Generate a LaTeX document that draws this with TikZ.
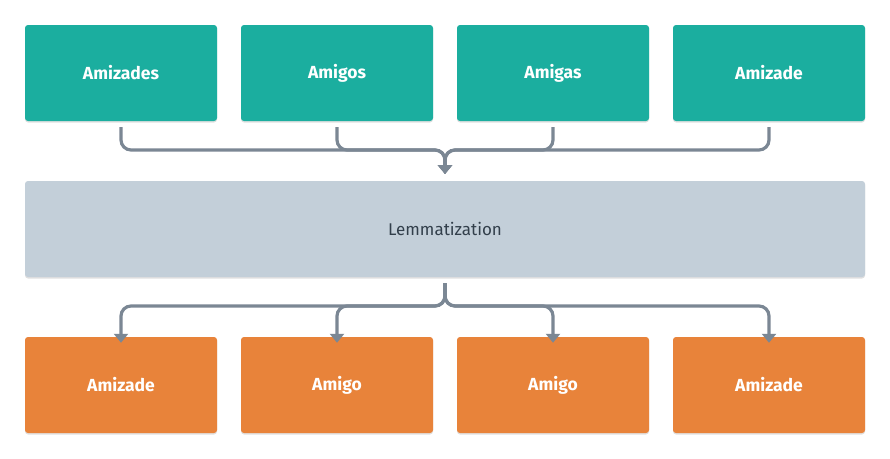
\documentclass[tikz,border=0pt]{standalone}
\usepackage{fontspec}
\setmainfont{Fira Sans}
\usetikzlibrary{arrows.meta,shadows,calc}
\definecolor{teal}{HTML}{1BAE9F}
\definecolor{orng}{HTML}{E8833A}
\definecolor{lgrey}{HTML}{C3CFD9}
\definecolor{dtext}{HTML}{323F4B}
\definecolor{conncol}{HTML}{7B8794}
\tikzset{
  box/.style={rounded corners=3pt, minimum width=192pt, minimum height=96pt, inner sep=0pt,
    font=\fontsize{17.5}{20}\selectfont\bfseries, text=white,
    drop shadow={shadow xshift=0pt, shadow yshift=-1.5pt, opacity=0.12, fill=black}},
  topbox/.style={box, fill=teal},
  botbox/.style={box, fill=orng},
  midbox/.style={rounded corners=3pt, minimum width=840pt, minimum height=96pt, inner sep=0pt,
    fill=lgrey, text=dtext, font=\fontsize{17}{20}\selectfont,
    drop shadow={shadow xshift=0pt, shadow yshift=-1.5pt, opacity=0.12, fill=black}},
  conn/.style={draw=conncol, line width=3.2pt, rounded corners=10pt},
  tipped/.style={conn, -{Triangle[width=14pt,length=9pt]}}
}
\begin{document}
\begin{tikzpicture}[x=1pt,y=-1pt]
\useasboundingbox (0,0) rectangle (890,458);
\fill[white] (0,0) rectangle (890,458);
\node[topbox] (t1) at (121,73) {Amizades};
\node[topbox] (t2) at (337,73) {Amigos};
\node[topbox] (t3) at (553,73) {Amigas};
\node[topbox] (t4) at (769,73) {Amizade};
\node[midbox] (m) at (445,229) {Lemmatization};
\node[botbox] (b1) at (121,385) {Amizade};
\node[botbox] (b2) at (337,385) {Amigo};
\node[botbox] (b3) at (553,385) {Amigo};
\node[botbox] (b4) at (769,385) {Amizade};
\coordinate (jt) at (445,150);
\coordinate (tt) at (445,174);
\coordinate (ms) at (445,283);
\coordinate (jb) at (445,306);
\foreach \n in {t1,t2,t3,t4}{
  \draw[tipped] ([yshift=-6pt]\n.south) |- (jt) -- (tt);
}
\foreach \n in {b1,b2,b3,b4}{
  \draw[tipped] (ms) -- (jb) -| ([yshift=-6pt]\n.north);
}
\end{tikzpicture}
\end{document}
